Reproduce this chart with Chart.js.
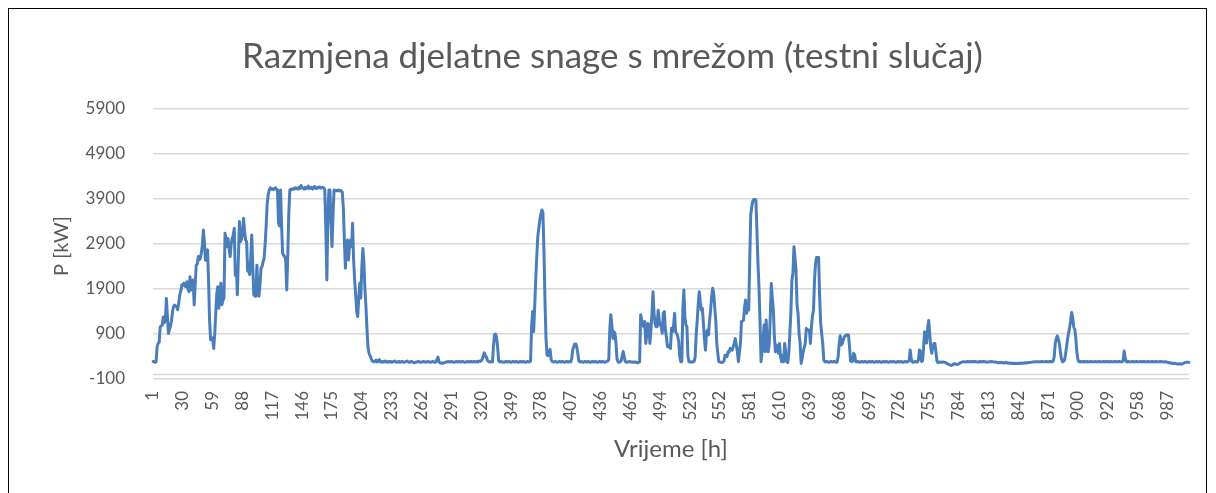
<!DOCTYPE html>
<html><head><meta charset="utf-8">
<script src="https://cdn.jsdelivr.net/npm/chart.js@4.4.1/dist/chart.umd.min.js"></script>
<style>
html,body{margin:0;padding:0;background:#fff;}
#wrap{position:relative;width:1216px;height:493px;overflow:hidden;}
canvas{position:absolute;left:0;top:0;}
#frame{position:absolute;left:8px;top:8px;width:1199px;height:520px;border:1.5px solid #000;box-sizing:border-box;pointer-events:none;}
</style></head>
<body><div id="wrap"><canvas id="c" width="1216" height="493"></canvas><div id="frame"></div></div>
<script>
// Hourly power exchange with the grid, P [kW] (hours 1..1008)
const week1 = [
290,290,270,280,620,690,720,1060,1080,1100,
1280,1150,1200,1690,1300,910,1000,1080,1200,1400,
1510,1540,1520,1510,1440,1600,1770,1850,1990,2000,
2030,1960,1950,2060,1900,1840,2170,1880,2000,2100,
1545,2000,2430,2450,2620,2550,2580,2700,2880,3210,
2920,2540,2700,2770,2100,1200,770,820,800,580,
900,1360,1800,1950,1470,1800,2030,1550,1650,1700,
3140,3000,2840,3020,2800,2620,2900,3020,3100,3250,
2200,2400,1770,2600,3400,2950,3000,3140,3470,3200,
2990,2950,2300,2290,2220,2600,3100,2400,1770,1740,
1740,2430,1900,1740,2000,2360,2400,2500,2580,2900,
3300,3800,4000,4100,4150,4120,4130,4110,4120,4150,
4120,4100,3360,3300,4100,3300,2690,2650,2620,2545,
1880,2650,3580,4100,4120,4110,4130,4120,4150,4130,
4140,4120,4160,4130,4200,4150,4140,4120,4160,4130,
4150,4190,4130,4140,4160,4120,4150,4180,4140,4130,
4160,4150,4170,4140,4150,4160,4150,4100];
const week2 = [
3210,2100,3580,4100,4100,3360,2840,3580,4100,4080,
4090,4080,4100,4080,4090,4080,4050,3700,2990,2360,
2840,2990,2545,2840,2990,2840,3360,2545,2100,1770,
1400,1290,1700,2030,1700,2400,2800,2500,1900,1500,
1000,600,470,420,360,300,290,280,300,320,
280,290,330,280,290,270,290,280,300,280,
270,290,280,290,270,280,290,300,280,270,
280,290,270,280,290,280,270,280,290,300,
280,270,280,290,280,270,260,270,280,280,
290,280,270,280,280,290,280,270,280,290,
280,280,270,280,290,280,270,280,330,390,
280,260,250,255,250,260,270,280,280,290,
280,280,290,280,280,270,280,290,280,280,
290,280,280,290,280,270,280,280,290,280,
280,290,280,280,290,280,280,290,280,300,
290,300,340,400,480,420,390,320,290,280,
280,290,280,650,880,900,820,600];
const week3 = [
300,280,290,280,280,270,280,290,280,280,
290,280,270,280,290,280,280,290,280,270,
280,290,280,280,290,280,270,280,290,280,
280,300,1060,1400,950,1500,2100,2620,3060,3250,
3430,3560,3655,3600,2770,1655,800,430,420,500,
560,330,290,280,280,290,280,270,280,290,
280,280,290,280,270,280,290,280,280,290,
280,350,550,620,680,680,600,450,300,280,
290,280,270,280,290,280,280,290,280,270,
280,290,280,280,290,280,270,280,290,280,
280,290,280,270,280,290,300,330,1000,1330,
1100,800,950,920,700,350,280,270,280,300,
400,510,400,290,280,270,280,290,280,280,
270,280,270,280,270,260,270,280,1330,1220,
1100,1060,1175,690,900,1135,1100,690,1000,1360,
1840,1360,1135,1060,1060,1430,1210,1100,1060,915,
1360,1400,1000,840,620,655,600,580];
const week4 = [
1025,950,1100,1360,950,915,850,730,400,285,
285,1430,1880,1290,1100,1060,400,285,280,270,
285,280,290,395,900,1210,1580,1840,1600,1430,
1470,1135,800,540,915,990,880,1200,1430,1730,
1915,1800,1500,1210,700,470,285,280,270,265,
280,300,430,420,395,505,500,580,560,540,
620,700,800,650,505,285,500,690,1175,1190,
1210,1500,1655,1360,1545,1430,2500,3545,3730,3850,
3890,3890,3875,3210,2500,1950,1210,285,505,800,
1100,505,1210,700,505,690,1290,2020,1700,1430,
840,505,655,600,470,690,400,285,430,285,
690,500,285,265,470,900,1360,2100,2250,2840,
2600,2320,1545,1360,900,690,245,360,505,600,
690,1025,990,990,990,690,1060,1300,1430,2100,
2470,2600,2600,2600,1730,1135,900,690,320,285,
280,290,280,270,280,290,280,280,290,280,
270,280,400,690,860,655,690,765];
const week5 = [
840,860,880,880,880,620,300,285,300,470,
440,285,280,290,280,270,280,290,280,280,
290,280,270,280,290,280,280,290,280,270,
280,290,280,280,290,280,270,280,290,280,
280,290,280,270,280,290,280,280,290,280,
270,280,290,280,280,290,280,270,280,290,
280,280,290,300,545,350,280,270,280,290,
280,280,320,545,510,290,300,600,950,900,
700,1025,1200,900,600,470,620,690,690,505,
300,265,280,270,275,270,280,275,270,260,
240,230,220,210,200,210,230,240,235,225,
225,230,250,265,270,280,285,280,275,285,
290,280,285,280,290,285,280,290,285,280,
275,285,290,280,285,290,280,285,280,270,
280,285,280,290,285,280,275,280,270,265,
260,265,270,265,260,255,260,265,260,255,
250,255,250,245,250,245,250,245];
const week6 = [
245,250,245,250,255,250,250,255,260,255,
260,265,265,270,275,280,275,285,280,285,
285,280,285,280,290,285,280,285,290,280,
285,280,290,285,280,300,395,690,800,860,
780,690,500,350,285,290,320,450,620,800,
920,1050,1200,1380,1250,1050,1000,800,500,330,
285,290,280,285,280,290,280,285,290,280,
285,280,290,285,280,285,290,280,285,280,
290,285,280,285,290,280,285,290,280,285,
280,290,285,280,285,290,280,285,280,290,
285,280,285,300,520,360,285,280,290,285,
280,285,290,280,285,280,290,285,280,285,
290,280,285,290,280,285,280,290,285,280,
285,290,280,285,280,290,285,280,285,290,
280,285,280,275,285,280,270,265,260,255,
250,250,245,250,245,240,235,230,240,235,
230,240,255,265,270,270,275,270];

const yTickValues = [-100, 900, 1900, 2900, 3900, 4900, 5900];
const xLabelEvery = 29;
const chartTitle = 'Razmjena djelatne snage s mrežom (testni slučaj)';
const xTitle = 'Vrijeme [h]';
const yTitle = 'P [kW]';

const powerKW = [].concat(week1, week2, week3, week4, week5, week6);
const hours = powerKW.map((_, i) => String(i + 1));

const FONT = 'Lato, "Open Sans", sans-serif';

const zeroLine = {
  id: 'zeroLine',
  beforeDatasetsDraw(chart) {
    const y = chart.scales.y.getPixelForValue(0);
    const { left, right } = chart.chartArea;
    const c = chart.ctx;
    c.save();
    c.strokeStyle = '#d9d9d9';
    c.lineWidth = 1.5;
    c.beginPath(); c.moveTo(left, y); c.lineTo(right, y); c.stroke();
    c.restore();
  }
};

// y-axis title, centred on the plot area height
const yAxisTitle = {
  id: 'yAxisTitle',
  afterDraw(chart) {
    const { top, bottom } = chart.chartArea;
    const c = chart.ctx;
    c.save();
    c.translate(62, (top + bottom) / 2 + 2);
    c.rotate(-Math.PI / 2);
    c.fillStyle = '#595959';
    c.font = '20px ' + FONT;
    c.textAlign = 'center';
    c.textBaseline = 'middle';
    c.fillText(yTitle, 0, 0);
    c.restore();
  }
};

new Chart(document.getElementById('c'), {
  type: 'line',
  data: {
    labels: hours,
    datasets: [{
      data: powerKW,
      borderColor: '#4a7ebb',
      borderWidth: 3,
      pointRadius: 0,
      tension: 0,
      fill: false,
      borderJoinStyle: 'round',
      borderCapStyle: 'round'
    }]
  },
  options: {
    responsive: false,
    animation: false,
    devicePixelRatio: 1,
    layout: { padding: { left: 36, right: 27, top: 0, bottom: 0 } },
    plugins: {
      legend: { display: false },
      tooltip: { enabled: false },
      title: {
        display: true, text: chartTitle, color: '#595959',
        font: { family: FONT, size: 35, weight: 'normal', lineHeight: 1.2 },
        padding: { top: 36, bottom: 31 }
      }
    },
    scales: {
      x: {
        type: 'category',
        grid: { display: false, drawTicks: false },
        border: { display: false },
        ticks: {
          autoSkip: false, maxRotation: 90, minRotation: 90, padding: 12,
          color: '#595959', font: { family: FONT, size: 17 },
          callback: function (v, i) { return i % xLabelEvery === 0 ? this.getLabelForValue(v) : null; }
        },
        title: { display: true, text: xTitle, color: '#595959', font: { family: FONT, size: 24, lineHeight: 1.2 }, padding: { top: 0, bottom: 29 } },
        afterFit: s => { s.height = 114; }
      },
      y: {
        min: -100, max: 5900,
        grid: { color: '#d9d9d9', lineWidth: 1.5, drawTicks: false },
        border: { display: false },
        afterBuildTicks: s => { s.ticks = yTickValues.map(v => ({ value: v })); },
        ticks: { padding: 28, color: '#595959', font: { family: FONT, size: 17 }, callback: v => String(v) },
        title: { display: false },
        afterFit: s => { s.width = 117; }
      }
    }
  },
  plugins: [zeroLine, yAxisTitle]
});
</script>
</body></html>
